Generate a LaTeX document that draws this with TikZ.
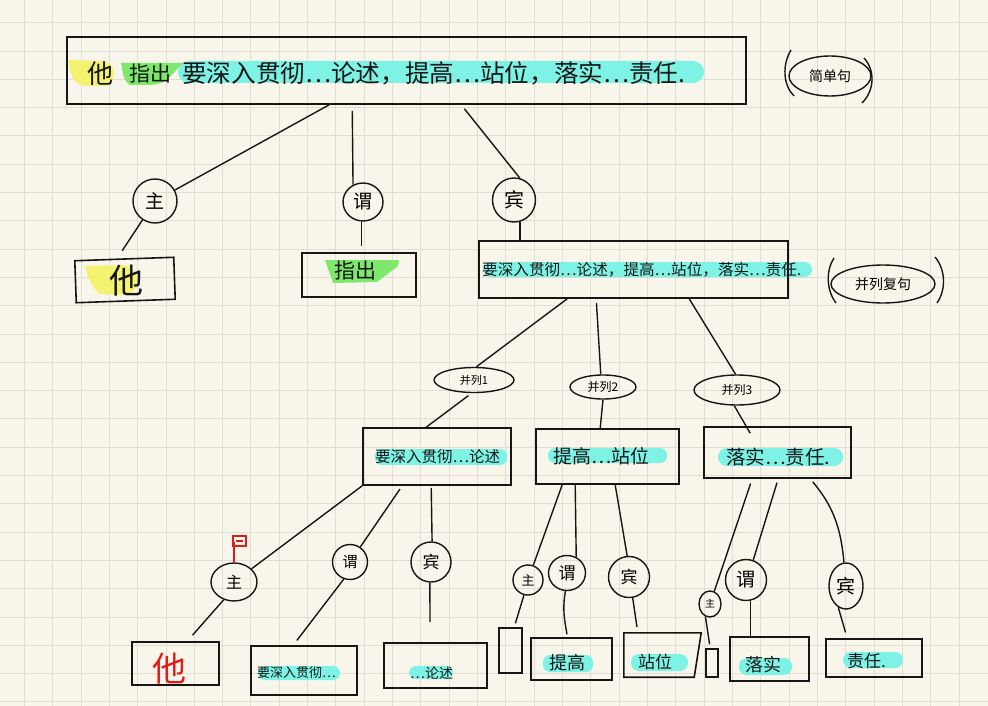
\documentclass[tikz,border=0pt]{standalone}
\usepackage{fontspec}
\newfontfamily\cjk{Noto Sans CJK SC}
\usetikzlibrary{shapes.geometric,calc}
\definecolor{paper}{HTML}{F8F6EB}
\definecolor{gridc}{HTML}{E1DED2}
\definecolor{hlcyan}{HTML}{7EF2E5}
\definecolor{hlyellow}{HTML}{F3F36F}
\definecolor{hlgreen}{HTML}{7DE86C}
\definecolor{inkred}{HTML}{E01B1B}
\definecolor{ink}{HTML}{161616}
\newcommand{\fsz}[1]{\fontsize{#1}{#1}\selectfont}
\begin{document}
\begin{tikzpicture}[x=1pt,y=-1pt,
  bx/.style={draw=ink, line width=1.6pt, inner sep=0pt},
  ring/.style={draw=ink, line width=1.4pt, ellipse, inner sep=0pt},
  lnk/.style={draw=ink, line width=1.4pt},
  txt/.style={text=ink, inner sep=0pt},
  hl/.style={fill=hlcyan, rounded corners=#1},
  hl/.default=7]
\useasboundingbox (0,0) rectangle (988,706);
\fill[paper] (0,0) rectangle (988,706);
\foreach \i in {0,...,33} \draw[gridc, line width=0.9pt] ({24.3+\i*28.33},0) -- ++(0,706);
\foreach \i in {0,...,24} \draw[gridc, line width=0.9pt] (0,{22.7+\i*28.3}) -- ++(988,0);

% ---------- top sentence ----------
\fill[hl=11] (178,61) rectangle (704,83);
\fill[hlgreen] (121,63) -- (183,63) -- (168,79) .. controls (160,84) .. (150,85) -- (130,85) .. controls (124,80) .. cycle;
\fill[hlyellow] (68,60) -- (104,61) .. controls (116,63) and (118,80) .. (106,86) -- (86,86) .. controls (74,85) and (70,75) .. cycle;
\node[bx, minimum width=679, minimum height=67] (top) at (406.5,70.5) {};
\node[txt, font={\cjk\fsz{26}}] (tta) at (100,74) {他};
\node[txt, font={\cjk\fsz{21}}] (ttb) at (150,74) {指出};
\node[txt, anchor=west, font={\cjk\fsz{24.6}}] (ttc) at (182,73) {要深入贯彻…论述，提高…站位，落实…责任.};

\node[ring, minimum width=82, minimum height=40, font={\cjk\fsz{14}}] (jd) at (830,76) {简单句};
\draw[lnk] (791,50) .. controls (782,65) and (783,85) .. (794,96);
\draw[lnk] (864,58) .. controls (875,70) and (875,90) .. (862,103);

% ---------- level 1 ----------
\node[ring, minimum width=44, minimum height=44, font={\cjk\fsz{19}}] (s1) at (155,201) {主};
\node[ring, minimum width=40, minimum height=38, font={\cjk\fsz{19}}] (p1) at (363,202) {谓};
\node[ring, minimum width=43, minimum height=44, font={\cjk\fsz{20}}] (o1) at (514,200) {宾};

\fill[hlyellow] (85,266) -- (125,265) .. controls (140,270) and (142,288) .. (128,295) -- (100,294) .. controls (92,288) and (88,278) .. cycle;
\node[bx, minimum width=99, minimum height=42, rotate=2] (ta) at (125,280) {};
\node[txt, font={\cjk\fsz{34}}] (tat) at (126,281) {他};

\fill[hlgreen] (325,260) -- (399,260) -- (398,266) -- (377,282) -- (333,283) -- cycle;
\node[bx, minimum width=114, minimum height=44] (zc) at (359,275) {};
\node[txt, font={\cjk\fsz{21}}] (zct) at (355,271) {指出};

\fill[hl=7.5] (483,262) rectangle (812,277);
\node[bx, minimum width=309, minimum height=57] (mid) at (633.5,269.5) {};
\node[txt, anchor=west, font={\cjk\fsz{15.6}}] (midt) at (482,270) {要深入贯彻…论述，提高…站位，落实…责任.};

\node[ring, minimum width=104, minimum height=38, font={\cjk\fsz{14}}] (bl) at (883,284) {并列复句};
\draw[lnk] (834,258) .. controls (826,270) and (826,290) .. (836,303);
\draw[lnk] (935,257) .. controls (946,270) and (946,290) .. (937,303);

\draw[lnk] ([xshift=263]top.south west) -- (s1);
\draw[lnk, shorten >=9] (s1) -- ([xshift=-7]ta.north);
\draw[lnk, shorten <=6] ([xshift=286]top.south west) -- (p1.120);
\draw[lnk, shorten >=6] (p1.-95) -- (p1.-95 |- zc.north);
\draw[lnk, shorten <=5] ([xshift=395]top.south west) -- (o1.75);
\draw[lnk] (o1.-75) -- (o1.-75 |- mid.north);

% ---------- level 2 ----------
\node[ring, minimum width=80, minimum height=25, font={\cjk\fsz{11}}] (b1) at (474,380) {并列1};
\node[ring, minimum width=66, minimum height=24, font={\cjk\fsz{12}}] (b2) at (603,387) {并列2};
\node[ring, minimum width=86, minimum height=30, font={\cjk\fsz{12}}] (b3) at (737,390) {并列3};
\draw[lnk] ([xshift=89]mid.south west) -- (b1.80);
\draw[lnk, shorten <=4] ([xshift=118]mid.south west) -- (b2.100);
\draw[lnk] ([xshift=211]mid.south west) -- (b3.95);

\fill[hl] (375,449) rectangle (507,465);
\node[bx, minimum width=148, minimum height=57] (A) at (437,456.5) {};
\node[txt, anchor=west, font={\cjk\fsz{15.5}}] (At) at (375,457) {要深入贯彻…论述};
\fill[hl] (548,448) rectangle (667,463);
\node[bx, minimum width=143, minimum height=55] (B) at (607.5,456.5) {};
\node[txt, anchor=west, font={\cjk\fsz{19}}] (Bt) at (553,456) {提高…站位};
\fill[hl=9] (718,448) rectangle (843,466);
\node[bx, minimum width=147, minimum height=51] (C) at (777.5,452.5) {};
\node[txt, anchor=west, font={\cjk\fsz{19.5}}] (Ct) at (726,457) {落实…责任.};

\draw[lnk, shorten <=4] (b1.-100) -- ([xshift=64]A.north west);
\draw[lnk] (b2.-90) -- ([xshift=65]B.north west);
\draw[lnk] (b3.-100) -- ($(C.north west)+(47,7)$);

% ---------- level 3 : A ----------
\node[ring, minimum width=46, minimum height=38, font={\cjk\fsz{16}}] (sA) at (234,582) {主};
\node[ring, minimum width=35, minimum height=35, font={\cjk\fsz{15}}] (pA) at (350,562) {谓};
\node[ring, minimum width=40, minimum height=40, font={\cjk\fsz{17}}] (oA) at (431,562) {宾};
\node[bx, minimum width=87, minimum height=43] (taA) at (175.5,663.5) {};
\node[txt, text=inkred, font={\cjk\fsz{34}}] (taAt) at (169,669) {他};
\fill[hl] (258,666) rectangle (340,680);
\node[bx, minimum width=106, minimum height=49] (yA) at (304,670.5) {};
\node[txt, anchor=west, font={\cjk\fsz{13}}] (yAt) at (257,673) {要深入贯彻…};
\fill[hl] (409,666) rectangle (453,679);
\node[bx, minimum width=103, minimum height=45] (lA) at (435.5,665.5) {};
\node[txt, anchor=west, font={\cjk\fsz{14}}] (lAt) at (410,673) {…论述};

\draw[lnk] (A.south west) -- (sA);
\draw[lnk, shorten >=8] (sA.-120) -- ([xshift=56]taA.north west);
\draw[inkred, line width=2pt] (sA.90) -- ++(0,-20);
\draw[inkred, line width=1.8pt] (233,536) rectangle (246,546);
\draw[inkred, line width=1.5pt] (236,541) -- (243,541);
\draw[lnk, shorten <=4] ([xshift=40]A.south west) -- (pA);
\draw[lnk, shorten >=6] (pA.-110) -- ([xshift=43]yA.north west);
\draw[lnk, shorten <=2] ([xshift=69]A.south west) -- (oA.87);
\draw[lnk, shorten >=20] (oA.-93) -- ([xshift=-5.5]lA.north);

% ---------- level 3 : B ----------
\node[ring, minimum width=30, minimum height=30, font={\cjk\fsz{13}}] (sB) at (528,580) {主};
\node[ring, minimum width=37, minimum height=35, font={\cjk\fsz{17}}] (pB) at (567,573) {谓};
\node[ring, minimum width=41, minimum height=41, font={\cjk\fsz{17}}] (oB) at (629,577) {宾};
\node[bx, minimum width=23, minimum height=45] (eB) at (510.5,650.5) {};
\fill[hl] (543,655) rectangle (593,672);
\node[bx, minimum width=81, minimum height=42] (tgB) at (571.5,659) {};
\node[txt, font={\cjk\fsz{18}}] (tgBt) at (567,663) {提高};
\fill[hl=8] (631,654) rectangle (688,671);
\node[minimum width=72, minimum height=44, inner sep=0pt] (zw) at (660,655) {};
\draw[ink, line width=1.6pt] (zw.north west) -- ([xshift=5]zw.north east) -- ([xshift=-2]zw.south east) -- (zw.south west) -- cycle;
\node[txt, font={\cjk\fsz{17}}] (zwt) at (655,662) {站位};

\draw[lnk] ([xshift=27]B.south west) -- (sB);
\draw[lnk, shorten >=4] (sB.-105) -- ([xshift=16]eB.north west);
\draw[lnk] ([xshift=40]B.south west) -- (pB.60);
\draw[lnk, shorten >=3] (pB.-95) to[out=-100,in=100] ([xshift=-4]tgB.north);
\draw[lnk] ([xshift=80]B.south west) -- (oB.95);
\draw[lnk, shorten >=6] (oB.-80) -- ([xshift=14]zw.north west);

% ---------- level 3 : C ----------
\node[ring, minimum width=22, minimum height=26, font={\cjk\fsz{10}}] (sC) at (710,604) {主};
\node[ring, minimum width=41, minimum height=41, font={\cjk\fsz{19}}] (pC) at (746,580) {谓};
\node[ring, minimum width=34, minimum height=46, font={\cjk\fsz{19}}] (oC) at (846,586) {宾};
\node[bx, minimum width=12, minimum height=28] (eC) at (712,663) {};
\fill[hl=8] (739,658) rectangle (792,675);
\node[bx, minimum width=79, minimum height=44] (lsC) at (769.5,659) {};
\node[txt, font={\cjk\fsz{18}}] (lsCt) at (763,665) {落实};
\fill[hl=8] (843,652) rectangle (903,668);
\node[bx, minimum width=96, minimum height=38] (zrC) at (874,658) {};
\node[txt, anchor=west, font={\cjk\fsz{17}}] (zrCt) at (847,661) {责任.};

\draw[lnk, shorten <=5] ([xshift=49]C.south west) -- (sC);
\draw[lnk, shorten >=4] (sC.-110) -- ([xshift=5]eC.north west);
\draw[lnk, shorten <=4] ([xshift=75]C.south west) -- (pC.70);
\draw[lnk] (pC.-78) -- (pC.-78 |- lsC.north);
\draw[lnk, shorten <=4] ([xshift=107]C.south west) to[out=-50,in=95] (oC.95);
\draw[lnk, shorten >=6] (oC.-110) -- ([xshift=22]zrC.north west);
\end{tikzpicture}
\end{document}
